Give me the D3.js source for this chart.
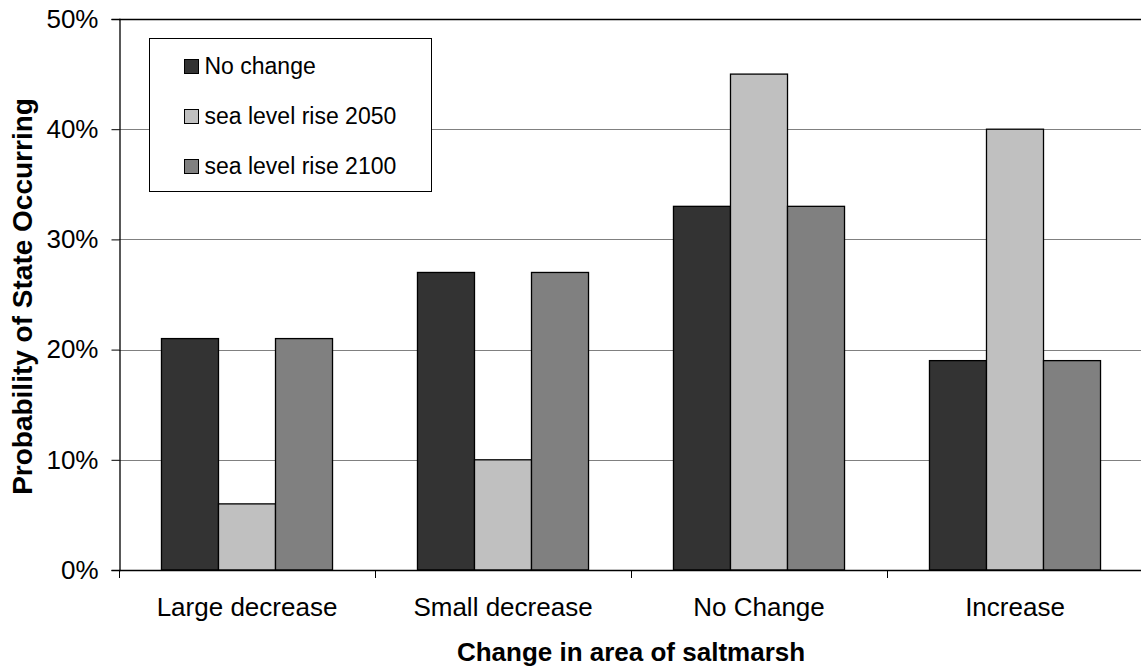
<!DOCTYPE html>
<html>
<head>
<meta charset="utf-8">
<script src="https://cdn.jsdelivr.net/npm/d3@7"></script>
<style>
  html, body { margin: 0; padding: 0; background: #fff; }
  svg { display: block; font-family: "Liberation Sans", Arial, sans-serif; }
</style>
</head>
<body>
<svg id="chart" width="1141" height="666"></svg>
<script>
// Probability of each saltmarsh state under three scenarios
const categories = ["Large decrease", "Small decrease", "No Change", "Increase"];
const seriesNames = ["No change", "sea level rise 2050", "sea level rise 2100"];
const noChange = [0.21, 0.27, 0.33, 0.19];
const slr2050 = [0.06, 0.10, 0.45, 0.40];
const slr2100 = [0.21, 0.27, 0.33, 0.19];
const seriesColors = ["#333333", "#c0c0c0", "#808080"];
const yTicks = [0, 0.1, 0.2, 0.3, 0.4, 0.5];

const seriesValues = [noChange, slr2050, slr2100];

const svg = d3.select("#chart");
const margin = { left: 119, right: -2, top: 19, bottom: 96 };
const W = 1141, H = 666;
const plotW = W - margin.left - margin.right;
const plotH = H - margin.top - margin.bottom;

const x = d3.scaleBand().domain(categories).range([margin.left, margin.left + plotW]).paddingInner(0).paddingOuter(0);
const xs = d3.scaleBand().domain(seriesNames).range([0, x.bandwidth()]).paddingInner(0).paddingOuter(0.745);
const y = d3.scaleLinear().domain([0, 0.5]).range([margin.top + plotH, margin.top]);

// horizontal gridlines
svg.append("g")
  .selectAll("line")
  .data(yTicks.slice(1))
  .join("line")
  .attr("x1", margin.left).attr("x2", margin.left + plotW)
  .attr("y1", d => Math.round(y(d)) + 0.5).attr("y2", d => Math.round(y(d)) + 0.5)
  .attr("stroke", d => d === 0.5 ? "#000" : "#808080")
  .attr("stroke-width", d => d === 0.5 ? 1.5 : 1.2);

// bars
const groups = svg.append("g")
  .selectAll("g")
  .data(categories)
  .join("g")
  .attr("transform", d => `translate(${x(d)},0)`);

groups.selectAll("rect")
  .data((d, i) => seriesNames.map((s, j) => ({ s, v: seriesValues[j][i], j })))
  .join("rect")
  .attr("x", d => xs(d.s))
  .attr("width", xs.bandwidth())
  .attr("y", d => y(d.v))
  .attr("height", d => y(0) - y(d.v))
  .attr("fill", d => seriesColors[d.j])
  .attr("stroke", "#000")
  .attr("stroke-width", 1.3);

// y axis
const yAxis = d3.axisLeft(y)
  .tickValues(yTicks)
  .tickFormat(d3.format(".0%"))
  .tickSize(8)
  .tickPadding(13);
const gy = svg.append("g")
  .attr("transform", `translate(${margin.left + 0.5},0)`)
  .call(yAxis);
gy.select(".domain").attr("stroke", "#000").attr("stroke-width", 1.3);
gy.selectAll(".tick line").attr("stroke", "#000");
gy.selectAll(".tick text")
  .attr("font-size", 26)
  .attr("fill", "#000")
  .attr("font-family", "Liberation Sans, Arial, sans-serif");

// x axis
const xAxis = d3.axisBottom(x).tickSize(0).tickPadding(0);
const gx = svg.append("g")
  .attr("transform", `translate(0,${y(0)})`)
  .call(xAxis);
gx.select(".domain").attr("stroke", "#000").attr("stroke-width", 1.5);
gx.selectAll(".tick text")
  .attr("y", 46)
  .attr("dy", 0)
  .attr("font-size", 26)
  .attr("fill", "#000")
  .attr("font-family", "Liberation Sans, Arial, sans-serif");

// category boundary ticks below the axis
svg.append("g")
  .selectAll("line")
  .data(categories)
  .join("line")
  .attr("x1", d => Math.round(x(d)) + 0.5).attr("x2", d => Math.round(x(d)) + 0.5)
  .attr("y1", y(0)).attr("y2", y(0) + 8)
  .attr("stroke", "#000").attr("stroke-width", 1);

// axis titles
svg.append("text")
  .attr("x", 631)
  .attr("y", 661)
  .attr("text-anchor", "middle")
  .attr("font-size", 26)
  .attr("font-weight", "bold")
  .text("Change in area of saltmarsh");

svg.append("text")
  .attr("transform", `translate(32,${(margin.top + margin.top + plotH) / 2 + 2}) rotate(-90)`)
  .attr("text-anchor", "middle")
  .attr("font-size", 28)
  .attr("font-weight", "bold")
  .text("Probability of State Occurring");

// legend
const legend = svg.append("g").attr("transform", "translate(149.5,38.5)");
legend.append("rect")
  .attr("width", 282).attr("height", 153)
  .attr("fill", "#fff").attr("stroke", "#000").attr("stroke-width", 1);
const items = legend.selectAll("g.item")
  .data(seriesNames)
  .join("g")
  .attr("class", "item")
  .attr("transform", (d, i) => `translate(35,${35 + i * 50})`);
items.append("rect")
  .attr("width", 14).attr("height", 14)
  .attr("y", -14)
  .attr("fill", (d, i) => seriesColors[i])
  .attr("stroke", "#000").attr("stroke-width", 1);
items.append("text")
  .attr("x", 20)
  .attr("y", 0)
  .attr("font-size", 23)
  .attr("fill", "#000")
  .text(d => d);
</script>
</body>
</html>
